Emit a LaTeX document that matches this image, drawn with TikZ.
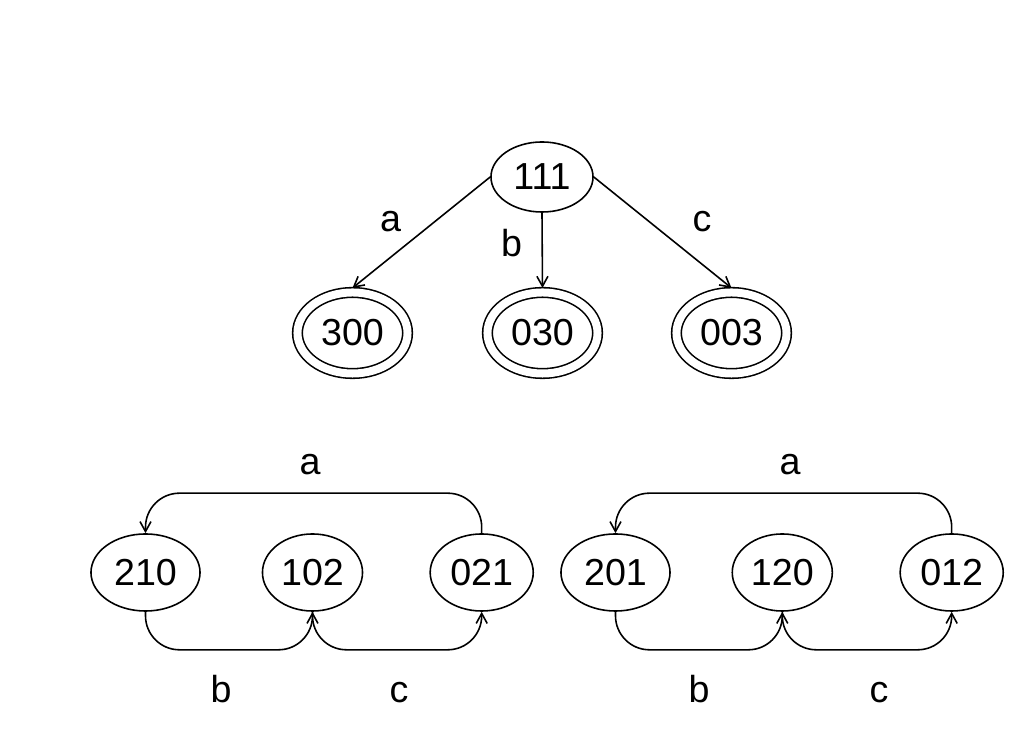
\documentclass[tikz,border=0pt]{standalone}
\usepackage{fontspec}
\setmainfont{Liberation Sans}
\usepackage{tikz}
\usetikzlibrary{shapes.geometric,arrows.meta}

\begin{document}
\begin{tikzpicture}[
    x=0.01cm, y=-0.01cm,
    >={Straight Barb[length=1mm,width=1.1mm]},
    line width=0.45pt,
    font=\fontsize{10.7pt}{12pt}\selectfont,
    estat/.style={
        ellipse, draw, inner sep=0pt,
        minimum width=1.03cm, minimum height=0.77cm},
    estatfinal/.style={
        ellipse, draw, double, double distance=0.8mm,
        inner sep=0pt, outer sep=0.45mm,
        minimum width=1.1cm, minimum height=0.81cm},
    etiqueta/.style={inner sep=0pt}
]

\useasboundingbox (0,0) rectangle (1020,731);

% ---------------- ARBRE ----------------

\node[estat, minimum width=1.02cm, minimum height=0.7cm] (e111) at (542,177) {111};

\node[estatfinal] (e300) at (352.5,333) {300};
\node[estatfinal] (e030) at (542.5,333) {030};
\node[estatfinal] (e003) at (731.5,333) {003};

\draw[->] (e111.west)  -- (e300.north);
\draw[->] (e111.south) -- (e030.north);
\draw[->] (e111.east)  -- (e003.north);

\node[etiqueta] (ea1) at (390.5,222) {a};
\node[etiqueta] (eb1) at (511.7,243) {b};
\node[etiqueta] (ec1) at (702,222)   {c};


% ---------------- CICLE ESQUERRE ----------------

\node[estat, minimum width=1.09cm] (e210) at (145.5,572.5) {210};
\node[estat, minimum width=1.0cm]  (e102) at (312.5,572.5) {102};
\node[estat]                       (e021) at (481.7,572.5) {021};

\draw[->, rounded corners=0.34cm]
    (e021.north) -- ++(0,-40) -| (e210.north);
\draw[->, rounded corners=0.34cm]
    (e210.south) -- ++(0,38) -| (e102.south);
\draw[->, rounded corners=0.34cm]
    (e102.south) -- ++(0,38) -| (e021.south);

\node[etiqueta] (ea2) at (310,465)   {a};
\node[etiqueta] (eb2) at (221,689.5) {b};
\node[etiqueta] (ec2) at (399,693)   {c};


% ---------------- CICLE DRET ----------------

\node[estat, minimum width=1.09cm] (e201) at (615.5,572.5) {201};
\node[estat, minimum width=1.0cm]  (e120) at (782.3,572.5) {120};
\node[estat]                       (e012) at (951.7,572.5) {012};

\draw[->, rounded corners=0.34cm]
    (e012.north) -- ++(0,-40) -| (e201.north);
\draw[->, rounded corners=0.34cm]
    (e201.south) -- ++(0,38) -| (e120.south);
\draw[->, rounded corners=0.34cm]
    (e120.south) -- ++(0,38) -| (e012.south);

\node[etiqueta] (ea3) at (790,465)   {a};
\node[etiqueta] (eb3) at (699,689.5) {b};
\node[etiqueta] (ec3) at (879,693)   {c};

\end{tikzpicture}
\end{document}
